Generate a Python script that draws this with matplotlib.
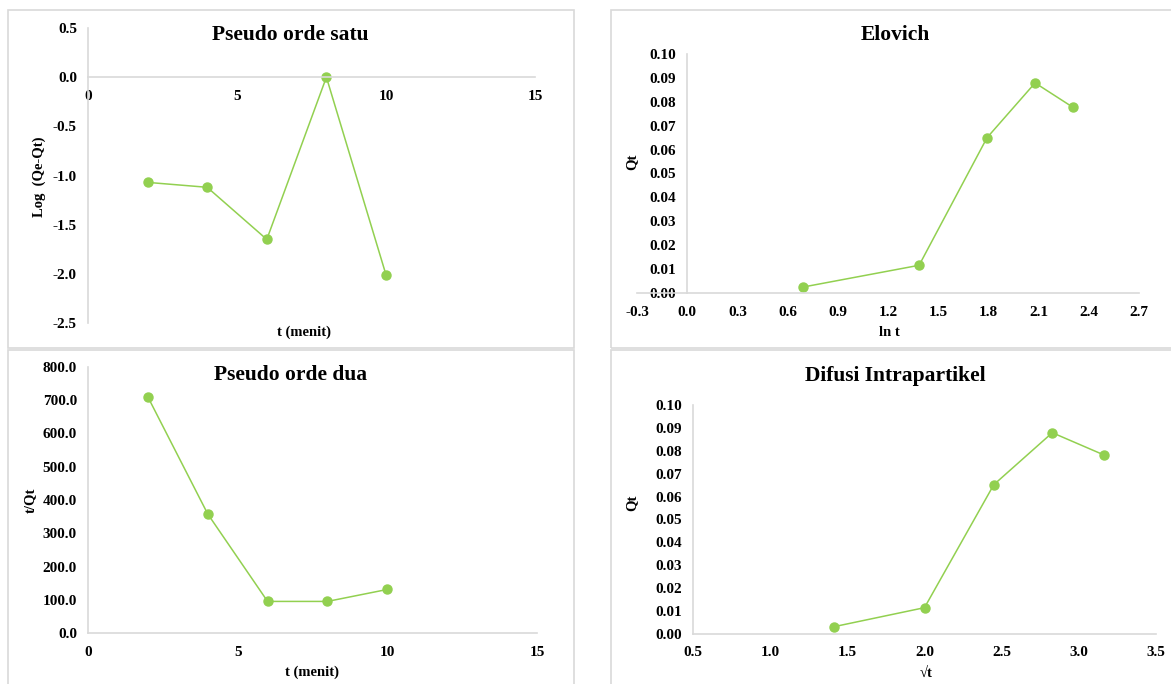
import matplotlib
matplotlib.use("Agg")
from matplotlib import pyplot as plt
from matplotlib.patches import Rectangle
from matplotlib.ticker import FormatStrFormatter
import numpy as np

plt.rcParams['font.family'] = ['Liberation Serif', 'DejaVu Serif']
plt.rcParams['font.weight'] = 'bold'
plt.rcParams['axes.unicode_minus'] = False

## data
t_menit = [2, 4, 6, 8, 10]
log_qe_qt = [-1.07, -1.12, -1.65, 0.0, -2.01]
t_per_qt = [710.0, 358.0, 95.0, 95.0, 131.0]
ln_t = [0.693, 1.386, 1.792, 2.079, 2.303]
sqrt_t = [1.414, 2.0, 2.449, 2.828, 3.162]
qt_elovich = [0.0025, 0.0116, 0.0650, 0.0879, 0.0778]
qt_difusi = [0.0032, 0.0115, 0.0652, 0.0879, 0.0782]

W, H = 1171, 684
GREEN = '#92D050'
GREY = '#D9D9D9'

fig = plt.figure(figsize=(W / 100, H / 100), dpi=100)
fig.patch.set_facecolor('white')


def box(x0, y0, x1, y1):
    return [x0 / W, 1 - y1 / H, (x1 - x0) / W, (y1 - y0) / H]


def ftext(x, y, s, size=10.5, **kw):
    fig.text(x / W, 1 - y / H, s, ha='center', va='center', fontsize=size,
             fontweight='bold', **kw)


## panel frames
for (x0, y0, x1, y1) in [(8, 10, 574, 348), (611, 10, 1185, 348),
                         (8, 350, 574, 700), (611, 350, 1185, 700)]:
    fig.patches.append(Rectangle((x0 / W, 1 - y1 / H), (x1 - x0) / W, (y1 - y0) / H,
                                 transform=fig.transFigure, fill=False,
                                 edgecolor=GREY, lw=1.2))


def setup(ax, xlim, ylim, xticks, yticks, xfmt, yfmt, xcross=None, ycross=None):
    ax.set_xlim(*xlim)
    ax.set_ylim(*ylim)
    ax.set_xticks(xticks)
    ax.set_yticks(yticks)
    ax.xaxis.set_major_formatter(FormatStrFormatter(xfmt))
    ax.yaxis.set_major_formatter(FormatStrFormatter(yfmt))
    ax.spines['top'].set_visible(False)
    ax.spines['right'].set_visible(False)
    for s in ('left', 'bottom'):
        ax.spines[s].set_color(GREY)
        ax.spines[s].set_linewidth(1.2)
    if xcross is not None:
        ax.spines['left'].set_position(('data', xcross))
    if ycross is not None:
        ax.spines['bottom'].set_position(('data', ycross))
    ax.tick_params(axis='x', length=0, pad=9, labelsize=11)
    ax.tick_params(axis='y', length=0, pad=8, labelsize=11)
    for lab in ax.get_xticklabels() + ax.get_yticklabels():
        lab.set_fontweight('bold')
    ax.patch.set_alpha(0)


def series(ax, x, y):
    ax.plot(x, y, color=GREEN, lw=1.1, marker='o', markersize=6.5,
            markerfacecolor=GREEN, markeredgecolor=GREEN, clip_on=False)


## Pseudo orde satu
ax1 = fig.add_axes(box(88, 28, 535, 323))
series(ax1, t_menit, log_qe_qt)
setup(ax1, (0, 15), (-2.5, 0.5), [0, 5, 10, 15], np.arange(-2.5, 0.51, 0.5),
      '%d', '%.1f', ycross=0)
ftext(290, 35, 'Pseudo orde satu', size=15.5)
ftext(39, 177, 'Log  (Qe-Qt)', rotation=90)
ftext(304, 332, 't (menit)')

## Elovich
ax2 = fig.add_axes(box(637, 54, 1139, 293))
series(ax2, ln_t, qt_elovich)
setup(ax2, (-0.3, 2.7), (0, 0.10), np.arange(-0.3, 2.71, 0.3),
      np.arange(0, 0.101, 0.01), '%.1f', '%.2f', xcross=0)
ftext(895, 35, 'Elovich', size=15.5)
ftext(632, 162, 'Qt', rotation=90)
ftext(889, 332, 'ln t')

## Pseudo orde dua
ax3 = fig.add_axes(box(88, 367, 537, 633))
series(ax3, t_menit, t_per_qt)
setup(ax3, (0, 15), (0, 800), [0, 5, 10, 15], np.arange(0, 801, 100),
      '%d', '%.1f')
ftext(291, 375, 'Pseudo orde dua', size=15.5)
ftext(30, 500, 't/Qt', rotation=90)
ftext(312, 672, 't (menit)')

## Difusi Intrapartikel
ax4 = fig.add_axes(box(693, 405, 1156, 634))
series(ax4, sqrt_t, qt_difusi)
setup(ax4, (0.5, 3.5), (0, 0.10), np.arange(0.5, 3.51, 0.5),
      np.arange(0, 0.101, 0.01), '%.1f', '%.2f')
ftext(895, 376, 'Difusi Intrapartikel', size=15.5)
ftext(632, 503, 'Qt', rotation=90)
ftext(926, 673, '\u221at')

fig.savefig('out.png', dpi=100, facecolor='white')
